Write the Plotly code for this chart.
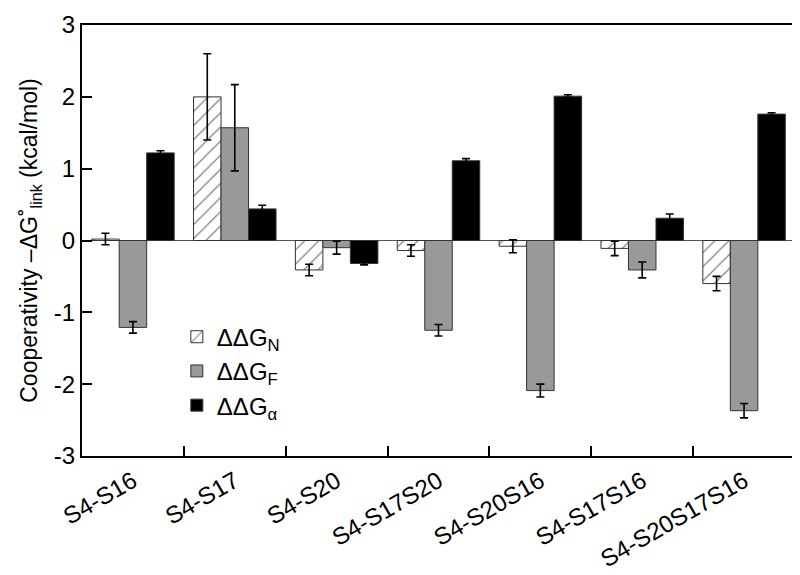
import plotly.graph_objects as go

categories = ["S4-S16", "S4-S17", "S4-S20", "S4-S17S20", "S4-S20S16", "S4-S17S16", "S4-S20S17S16"]
ddg_n = [0.02, 2.00, -0.41, -0.14, -0.08, -0.11, -0.60]
ddg_n_err = [0.08, 0.60, 0.08, 0.08, 0.09, 0.10, 0.10]
ddg_f = [-1.21, 1.57, -0.10, -1.25, -2.09, -0.41, -2.37]
ddg_f_err = [0.08, 0.60, 0.09, 0.08, 0.09, 0.11, 0.10]
ddg_a = [1.22, 0.44, -0.32, 1.11, 2.01, 0.31, 1.76]
ddg_a_err = [0.03, 0.05, 0.02, 0.03, 0.02, 0.06, 0.02]
y_ticks = [-3, -2, -1, 0, 1, 2, 3]
y_ticktext = ["-3", "-2", "-1", "0", "1", "2", "3"]

FONT = "Arial, Liberation Sans, sans-serif"

def err(vals):
    return dict(type="data", array=vals, visible=True, color="black", thickness=1.6, width=4)

fig = go.Figure()
fig.add_trace(go.Bar(
    x=categories, y=ddg_n, name="ΔΔG<sub>N</sub>", legendgroup="n",
    marker=dict(color="white", line=dict(color="#333333", width=1),
                pattern=dict(shape="/", fgcolor="black", bgcolor="white", size=10, solidity=0.12)),
    error_y=err(ddg_n_err)))
fig.add_trace(go.Bar(
    x=categories, y=ddg_f, name="ΔΔG<sub>F</sub>", legendgroup="f",
    marker=dict(color="#999999", line=dict(color="#333333", width=1)),
    error_y=err(ddg_f_err)))
fig.add_trace(go.Bar(
    x=categories, y=ddg_a, name="ΔΔG<sub>α</sub>", legendgroup="a",
    marker=dict(color="black", line=dict(color="#333333", width=1)),
    error_y=err(ddg_a_err)))

# the page body has an 8px default margin, so the figure is sized and margined to land
# the plot area at the reference pixel positions
fig.update_layout(
    width=792, height=567,
    margin=dict(l=74, r=3, t=8, b=116),
    paper_bgcolor="white", plot_bgcolor="white",
    font=dict(family=FONT, size=22, color="black"),
    barmode="group", bargap=0.19, bargroupgap=0,
    showlegend=True,
    legend=dict(x=0.133, y=0.328, xanchor="left", yanchor="top",
                bgcolor="rgba(0,0,0,0)", font=dict(size=24, family=FONT),
                tracegroupgap=14, traceorder="normal"),
)
fig.update_xaxes(
    type="category", tickson="boundaries", ticks="inside", ticklen=10, tickwidth=2,
    tickcolor="black", showline=True, linecolor="black", linewidth=2, mirror=True,
    tickangle=-30, tickfont=dict(size=24, family=FONT), showgrid=False,
    ticklabeloverflow="allow",
)
fig.update_yaxes(
    range=[-3.001, 3.001], tickmode="array", tickvals=y_ticks, ticktext=y_ticktext,
    ticks="inside", ticklen=10, tickwidth=2, tickcolor="black",
    showline=True, linecolor="black", linewidth=2, mirror=True, showgrid=False,
    zeroline=True, zerolinecolor="#555555", zerolinewidth=1,
    tickfont=dict(size=24, family=FONT), ticklabelstandoff=0, ticklabeloverflow="allow",
    title=dict(text="Cooperativity –ΔG˚<sub>link</sub> (kcal/mol)", font=dict(size=23, family=FONT), standoff=10),
)

fig.write_html("out.html")
